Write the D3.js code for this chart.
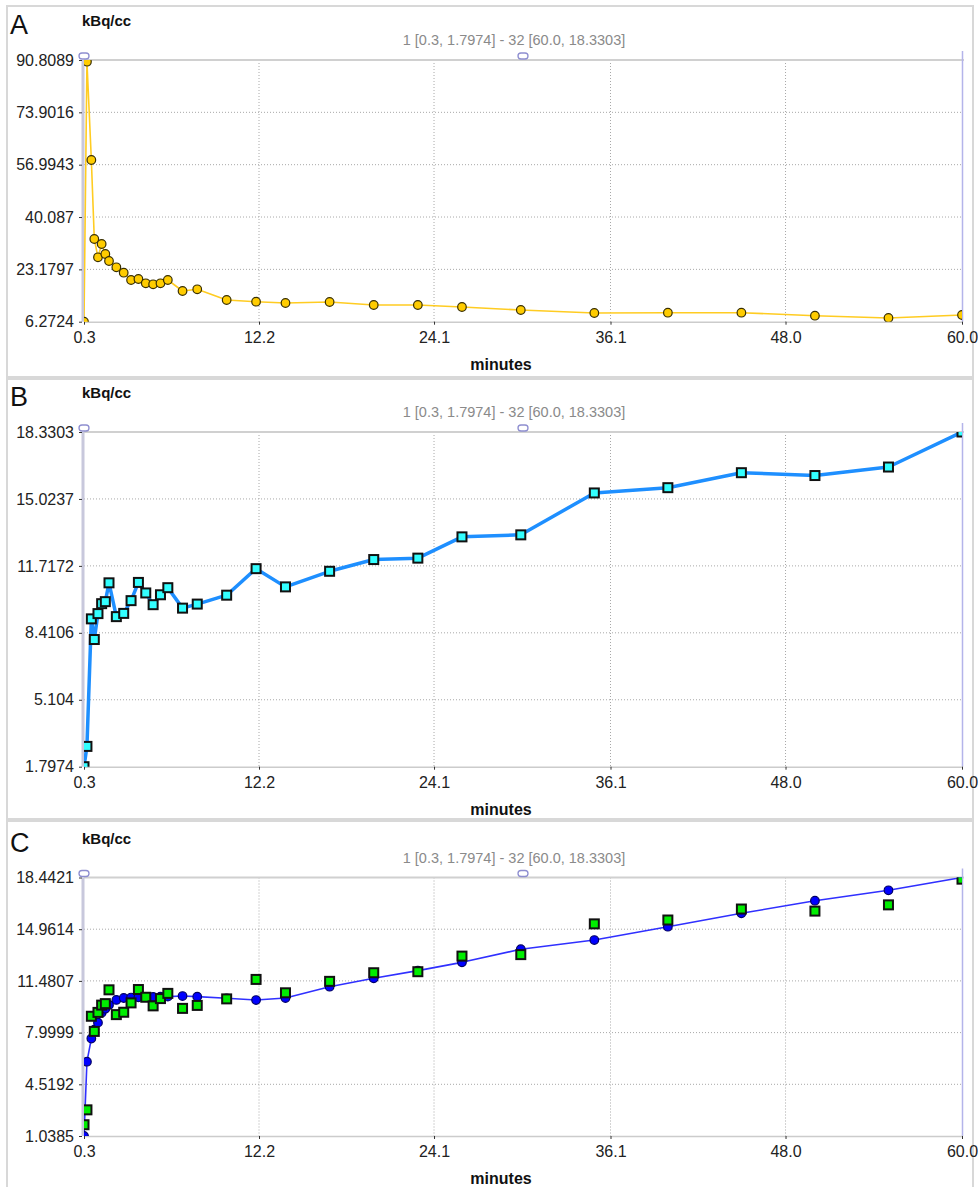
<!DOCTYPE html>
<html>
<head>
<meta charset="utf-8">
<script src="https://cdn.jsdelivr.net/npm/d3@7"></script>
<style>
  body { margin: 0; background: #fff; }
  svg { font-family: "Liberation Sans", Arial, sans-serif; }
  .tick text { font-size: 16px; fill: #222; }
</style>
</head>
<body>
<div id="chart"></div>
<script>
// frame mid times (minutes)
var times = [0.3, 0.5, 0.8, 1.0, 1.25, 1.5, 1.75, 2.0, 2.5, 3.0, 3.5, 4.0, 4.5, 5.0, 5.5, 6.0,
             7.0, 8.0, 10.0, 12.0, 14.0, 17.0, 20.0, 23.0, 26.0, 30.0, 35.0, 40.0, 45.0, 50.0, 55.0, 60.0]

// panel A: input curve (kBq/cc)
var inputCurve = [6.2724, 90.26, 58.5, 32.99, 27.07, 31.37, 28.14, 25.88, 23.84, 22.10, 19.74, 20.06, 18.68, 18.35, 18.68, 19.74,
                  16.19, 16.74, 13.28, 12.73, 12.31, 12.64, 11.67, 11.67, 11.02, 10.05, 9.08, 9.18, 9.18, 8.21, 7.47, 8.43]

// panel B / C squares: tissue curve
var tissueCurve = [1.7974, 2.80, 9.10, 8.08, 9.36, 9.85, 9.95, 10.88, 9.21, 9.37, 10.00, 10.90, 10.38, 9.80, 10.29, 10.64,
                   9.63, 9.83, 10.27, 11.58, 10.68, 11.45, 12.03, 12.10, 13.15, 13.25, 15.32, 15.58, 16.32, 16.18, 16.60, 18.3303]

// panel C circles: model fit
var modelFit = [1.0385, 6.04, 7.6, 8.2, 8.67, 9.34, 9.6, 9.86, 10.2, 10.33, 10.36, 10.38, 10.4, 10.4, 10.42, 10.42,
                10.46, 10.42, 10.31, 10.19, 10.33, 11.09, 11.66, 12.17, 12.73, 13.61, 14.23, 15.13, 16.03, 16.88, 17.58, 18.4421]

var xTicks = [0.3, 12.2, 24.1, 36.1, 48.0, 60.0]
var yTicksA = ["6.2724", "23.1797", "40.087", "56.9943", "73.9016", "90.8089"]
var yTicksB = ["1.7974", "5.104", "8.4106", "11.7172", "15.0237", "18.3303"]
var yTicksC = ["1.0385", "4.5192", "7.9999", "11.4807", "14.9614", "18.4421"]

var rangeLabel = "1 [0.3, 1.7974] - 32 [60.0, 18.3303]"
var unitLabel = "kBq/cc"
var xLabel = "minutes"

var svg = d3.select('#chart').append('svg')
    .attr('width', 978)
    .attr('height', 1187)

var xs = d3.scaleLinear().domain([0.3, 60]).range([84, 962])

function drawPanel(cfg, idx) {
    var g = svg.append('g')
    var yVals = cfg.yTicks.map(function(d) { return +d })
    var ys = d3.scaleLinear().domain([yVals[0], yVals[yVals.length - 1]]).range([cfg.plotBottom, cfg.plotTop])

    // panel frame
    g.append('rect')
        .attr('x', 7).attr('y', cfg.top)
        .attr('width', 966).attr('height', cfg.bottom - cfg.top)
        .attr('fill', 'none').attr('stroke', '#d8d8d8').attr('stroke-width', 2)

    g.append('text')
        .attr('x', 10).attr('y', cfg.plotTop - 26)
        .style('font-size', '27px').style('fill', '#111')
        .text(cfg.letter)

    g.append('text')
        .attr('x', 82).attr('y', cfg.plotTop - 34)
        .style('font-size', '15px').style('font-weight', 'bold').style('fill', '#111')
        .text(unitLabel)

    g.append('text')
        .attr('x', 514).attr('y', cfg.plotTop - 15)
        .attr('text-anchor', 'middle')
        .style('font-size', '14.5px').style('fill', '#8a8a8a')
        .text(rangeLabel)

    // grid
    g.append('g').selectAll('line')
        .data(xTicks.slice(1, -1))
        .enter().append('line')
        .attr('x1', function(d) { return xs(d) }).attr('x2', function(d) { return xs(d) })
        .attr('y1', cfg.plotTop).attr('y2', cfg.plotBottom)
        .attr('stroke', '#a8a8a8').attr('stroke-dasharray', '1,2')

    g.append('g').selectAll('line')
        .data(yVals.slice(1, -1))
        .enter().append('line')
        .attr('x1', 84).attr('x2', 962)
        .attr('y1', function(d) { return ys(d) }).attr('y2', function(d) { return ys(d) })
        .attr('stroke', '#a8a8a8').attr('stroke-dasharray', '1,2')

    // top border and left band
    g.append('line')
        .attr('x1', 84).attr('x2', 964)
        .attr('y1', cfg.plotTop).attr('y2', cfg.plotTop)
        .attr('stroke', '#d0d0d0').attr('stroke-width', 2)
    g.append('line')
        .attr('x1', 83).attr('x2', 83)
        .attr('y1', cfg.plotTop).attr('y2', cfg.plotBottom)
        .attr('stroke', '#c8c8dc').attr('stroke-width', 3)
    g.append('line')
        .attr('x1', 962.5).attr('x2', 962.5)
        .attr('y1', cfg.plotTop - 9).attr('y2', cfg.plotBottom)
        .attr('stroke', '#b4b4ea').attr('stroke-width', 1.5)

    // axes
    var yAxis = g.append('g')
        .attr('transform', 'translate(82,0)')
        .call(d3.axisLeft(ys).tickValues(yVals)
            .tickFormat(function(d, i) { return cfg.yTicks[i] })
            .tickSize(3).tickSizeOuter(0).tickPadding(5))
    yAxis.select('.domain').remove()
    yAxis.selectAll('.tick line').attr('stroke', '#333')

    var xAxis = g.append('g')
        .attr('transform', 'translate(0,' + cfg.plotBottom + ')')
        .call(d3.axisBottom(xs).tickValues(xTicks)
            .tickFormat(function(d) { return d.toFixed(1) })
            .tickSize(3).tickSizeOuter(0).tickPadding(7))
    xAxis.select('.domain').attr('stroke', '#cccccc').attr('stroke-width', 1.5)
    xAxis.selectAll('.tick line').attr('stroke', '#333')

    g.append('text')
        .attr('x', 501).attr('y', cfg.plotBottom + 48)
        .attr('text-anchor', 'middle')
        .style('font-size', '16px').style('font-weight', 'bold').style('fill', '#111')
        .text(xLabel)

    // handles
    g.selectAll('.handle')
        .data([84, 523])
        .enter().append('rect')
        .attr('x', function(d) { return d - 5 }).attr('y', cfg.plotTop - 7)
        .attr('width', 10).attr('height', 6).attr('rx', 3)
        .attr('fill', '#fff').attr('stroke', '#8e8ed0').attr('stroke-width', 1.3)

    svg.append('clipPath').attr('id', 'clip' + idx)
        .append('rect')
        .attr('x', 84).attr('y', cfg.plotTop)
        .attr('width', 878).attr('height', cfg.plotBottom - cfg.plotTop)

    var plot = g.append('g').attr('clip-path', 'url(#clip' + idx + ')')
    var line = d3.line()
        .x(function(d, i) { return xs(times[i]) })
        .y(function(d) { return ys(d) })

    cfg.series.forEach(function(s) {
        if (s.lineWidth) {
            plot.append('path')
                .datum(s.values)
                .attr('d', line)
                .attr('fill', 'none')
                .attr('stroke', s.lineColor)
                .attr('stroke-width', s.lineWidth)
                .attr('stroke-linejoin', 'round')
        }
    })

    cfg.series.forEach(function(s) {
        if (s.marker == 'circle') {
            plot.append('g').selectAll('circle')
                .data(s.values)
                .enter().append('circle')
                .attr('cx', function(d, i) { return xs(times[i]) })
                .attr('cy', function(d) { return ys(d) })
                .attr('r', 4.3)
                .attr('fill', s.fill)
                .attr('stroke', s.stroke)
                .attr('stroke-width', 1.2)
        } else {
            plot.append('g').selectAll('rect')
                .data(s.values)
                .enter().append('rect')
                .attr('x', function(d, i) { return xs(times[i]) - 4.5 })
                .attr('y', function(d) { return ys(d) - 4.5 })
                .attr('width', 9).attr('height', 9)
                .attr('fill', s.fill)
                .attr('stroke', '#111')
                .attr('stroke-width', 2)
        }
    })
}

var panels = [
    { letter: 'A', top: 6, bottom: 377, plotTop: 60, plotBottom: 321.7, yTicks: yTicksA,
      series: [{ values: inputCurve, marker: 'circle', fill: '#ffcc00', stroke: '#3a3000', lineColor: '#ffcc22', lineWidth: 1.6 }] },
    { letter: 'B', top: 379, bottom: 819, plotTop: 432, plotBottom: 766.7, yTicks: yTicksB,
      series: [{ values: tissueCurve, marker: 'square', fill: '#33ffff', lineColor: '#1e8fff', lineWidth: 3.5 }] },
    { letter: 'C', top: 821, bottom: 1200, plotTop: 877.5, plotBottom: 1136, yTicks: yTicksC,
      series: [{ values: modelFit, marker: 'circle', fill: '#0000ff', stroke: '#000066', lineColor: '#3030ff', lineWidth: 1.6 },
               { values: tissueCurve, marker: 'square', fill: '#00ee00' }] }
]

panels.forEach(drawPanel)
</script>
</body>
</html>
